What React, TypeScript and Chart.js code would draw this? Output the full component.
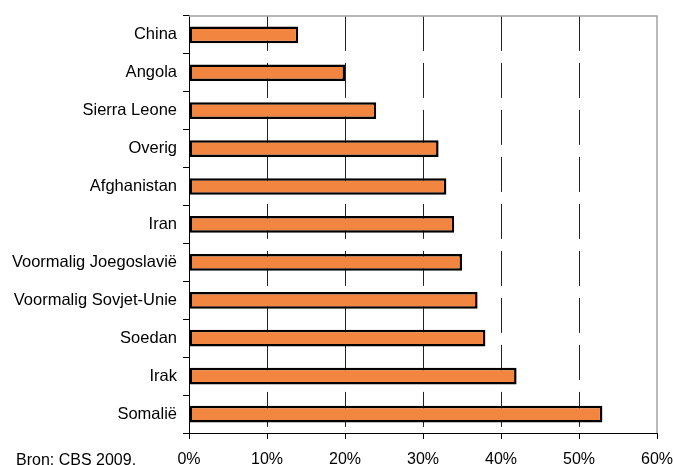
import React, { useEffect, useRef } from "react";
import { Chart, registerables } from "chart.js";

Chart.register(...registerables);

const categories = [
  "China",
  "Angola",
  "Sierra Leone",
  "Overig",
  "Afghanistan",
  "Iran",
  "Voormalig Joegoslavië",
  "Voormalig Sovjet-Unie",
  "Soedan",
  "Irak",
  "Somalië",
];
const values = [14, 20, 24, 32, 33, 34, 35, 37, 38, 42, 53];
const xMin = 0;
const xMax = 60;
const xStep = 10;
const sourceNote = "Bron: CBS 2009.";

const FONT = "'Liberation Sans', Arial, sans-serif";

const framePlugin = {
  id: "frame",
  afterDraw(chart: any) {
    const { ctx, chartArea } = chart;
    ctx.save();
    ctx.strokeStyle = "#a3a3a3";
    ctx.lineWidth = 1.5;
    ctx.beginPath();
    ctx.moveTo(chartArea.left, chartArea.top);
    ctx.lineTo(chartArea.right, chartArea.top);
    ctx.lineTo(chartArea.right, chartArea.bottom);
    ctx.stroke();
    ctx.fillStyle = "#000";
    ctx.font = `16px ${FONT}`;
    ctx.textBaseline = "alphabetic";
    ctx.textAlign = "left";
    ctx.fillText(sourceNote, 16, 465);
    ctx.restore();
  },
};

export default function App() {
  const ref = useRef<HTMLCanvasElement | null>(null);
  useEffect(() => {
    if (!ref.current) return;
    const chart = new Chart(ref.current, {
      type: "bar",
      data: {
        labels: categories,
        datasets: [
          {
            data: values,
            backgroundColor: "#F2853F",
            borderColor: "#000",
            borderWidth: 2.5,
            borderSkipped: false,
            categoryPercentage: 1,
            barPercentage: 0.44,
          },
        ],
      },
      options: {
        indexAxis: "y",
        responsive: true,
        maintainAspectRatio: false,
        animation: false,
        layout: { padding: { top: 13, right: 16, left: 0, bottom: 0 } },
        plugins: {
          legend: { display: false },
          tooltip: { enabled: false },
        },
        scales: {
          x: {
            min: xMin,
            max: xMax,
            ticks: {
              stepSize: xStep,
              color: "#000",
              font: { family: FONT, size: 16 },
              padding: 11,
              maxRotation: 0,
              callback: (v: any) => `${v}%`,
            },
            grid: {
              color: (ctx: any) =>
                ctx.tick && (ctx.tick.value === xMin || ctx.tick.value === xMax)
                  ? "rgba(0,0,0,0)"
                  : "#222",
              lineWidth: 1,
              tickColor: "#000",
              tickLength: 6,
            },
            border: { color: "#000", width: 1, dash: [35, 12] },
            afterFit: (scale: any) => {
              scale.height = 32;
              scale.paddingRight = 0;
              scale.paddingLeft = 0;
            },
          },
          y: {
            ticks: {
              color: "#000",
              font: { family: FONT, size: 16.5 },
              padding: 6,
            },
            grid: {
              drawOnChartArea: false,
              tickColor: "#000",
              tickLength: 6,
              offset: true,
            },
            border: { color: "#000", width: 1 },
            afterFit: (scale: any) => {
              scale.width = 189;
            },
          },
        },
      },
      plugins: [framePlugin],
    });
    return () => chart.destroy();
  }, []);
  return (
    <div style={{ position: "fixed", left: 0, top: 0, width: 673, height: 465 }}>
      <canvas ref={ref} />
    </div>
  );
}
